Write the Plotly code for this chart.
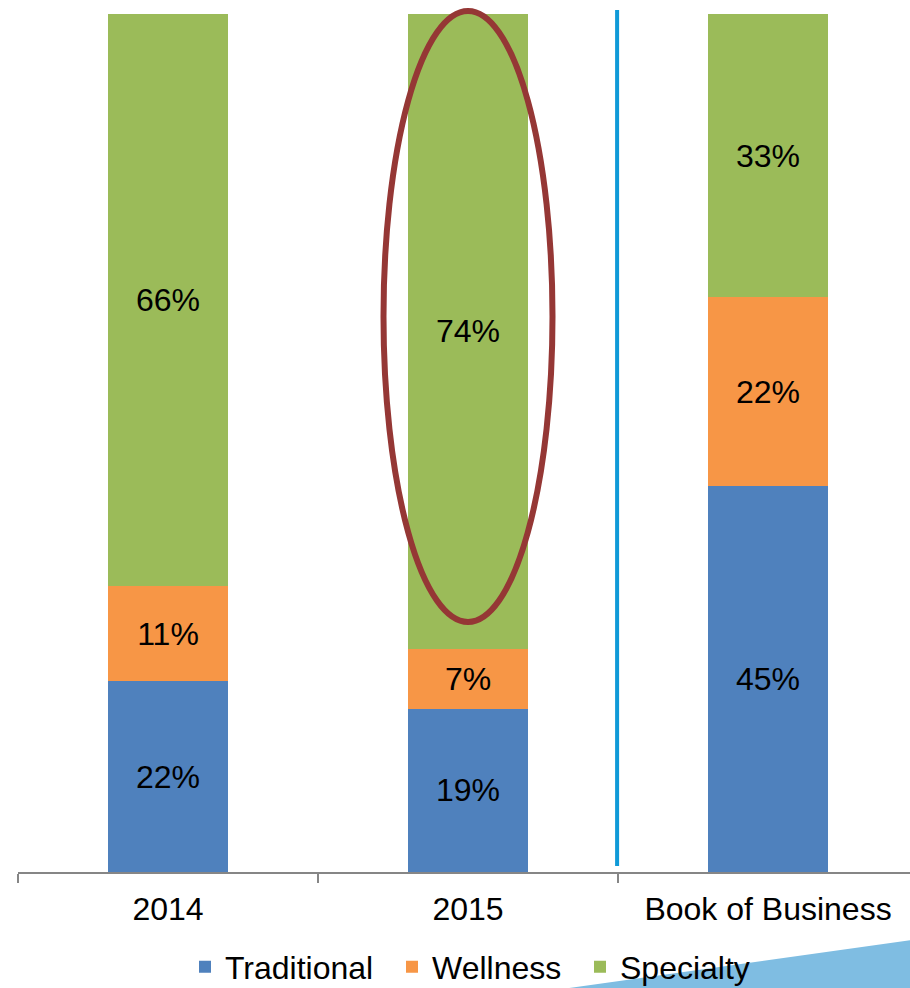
import plotly.graph_objects as go

categories = ["2014", "2015", "Book of Business"]
traditional = [22, 19, 45]
wellness = [11, 7, 22]
specialty = [66, 74, 33]

series = [
    ("Traditional", traditional, "#4f81bd"),
    ("Wellness", wellness, "#f79646"),
    ("Specialty", specialty, "#9bbb59"),
]

FONT = "Liberation Sans, Arial, sans-serif"
FS = 32

W, H = 910, 988
left, right, top, bottom = 18, 0, 14, 116
plot_w = W - left - right
plot_h = H - top - bottom
cat_px = 300.0
xmax = -0.5 + plot_w / cat_px

def py(p):  # pixel y -> paper y
    return (H - bottom - p) / plot_h
def px(p):  # pixel x -> paper x
    return (p - left) / plot_w

legend_ids = ["legend", "legend2", "legend3"]
legend_text_x = [225, 432, 620]

fig = go.Figure()
for (name, vals, color), lid in zip(series, legend_ids):
    fig.add_trace(go.Bar(
        x=categories, y=vals, name=name, legend=lid,
        marker=dict(color=color, line=dict(width=0)),
        width=0.4,
        text=[f"{v}%" for v in vals],
        textposition="inside", insidetextanchor="middle", textangle=0,
        textfont=dict(family=FONT, size=FS, color="#000000"),
        hoverinfo="skip",
    ))

legend_common = dict(orientation="h", xanchor="left", y=py(967), yanchor="middle",
                     font=dict(family=FONT, size=FS, color="#000000"),
                     bgcolor="rgba(0,0,0,0)", itemwidth=30, borderwidth=0)

fig.update_layout(
    width=W, height=H,
    barmode="stack", barnorm="percent",
    margin=dict(l=left, r=right, t=top, b=bottom, pad=0, autoexpand=False),
    paper_bgcolor="white", plot_bgcolor="white",
    showlegend=True,
    legend=dict(x=px(legend_text_x[0] - 40), **legend_common),
    legend2=dict(x=px(legend_text_x[1] - 40), **legend_common),
    legend3=dict(x=px(legend_text_x[2] - 40), **legend_common),
    uniformtext=dict(minsize=FS, mode="show"),
    xaxis=dict(type="category", range=[-0.5, xmax], tickson="boundaries",
               ticks="outside", ticklen=9, tickwidth=1.5, tickcolor="#868686",
               ticklabelstandoff=8,
               showline=True, linecolor="#868686", linewidth=1.5,
               showgrid=False, zeroline=False,
               tickfont=dict(family=FONT, size=FS, color="#000000")),
    yaxis=dict(range=[0, 100], visible=False, showgrid=False, zeroline=False),
)

# vertical separator line between 2015 and Book of Business
fig.add_shape(type="line", xref="x", yref="paper", x0=1.497, x1=1.497,
              y0=py(866), y1=py(10), line=dict(color="#0f9ad8", width=4), layer="above")

# ellipse highlight around 2015 specialty
fig.add_shape(type="circle", xref="x", yref="paper", x0=1 - 84.5/cat_px, x1=1 + 84.5/cat_px,
              y0=py(622), y1=py(11), line=dict(color="#953735", width=6), layer="above")

# decorative triangle at bottom right
fig.add_shape(type="path", xref="paper", yref="paper",
              path=f"M {px(555)} {py(990)} L {px(912)} {py(940)} L {px(912)} {py(990)} Z",
              fillcolor="#7fbde2", line=dict(width=0), layer="below")

fig.write_html("out.html", config={"displayModeBar": False},
               post_script="document.body.style.margin='0';document.body.style.overflow='hidden';")
